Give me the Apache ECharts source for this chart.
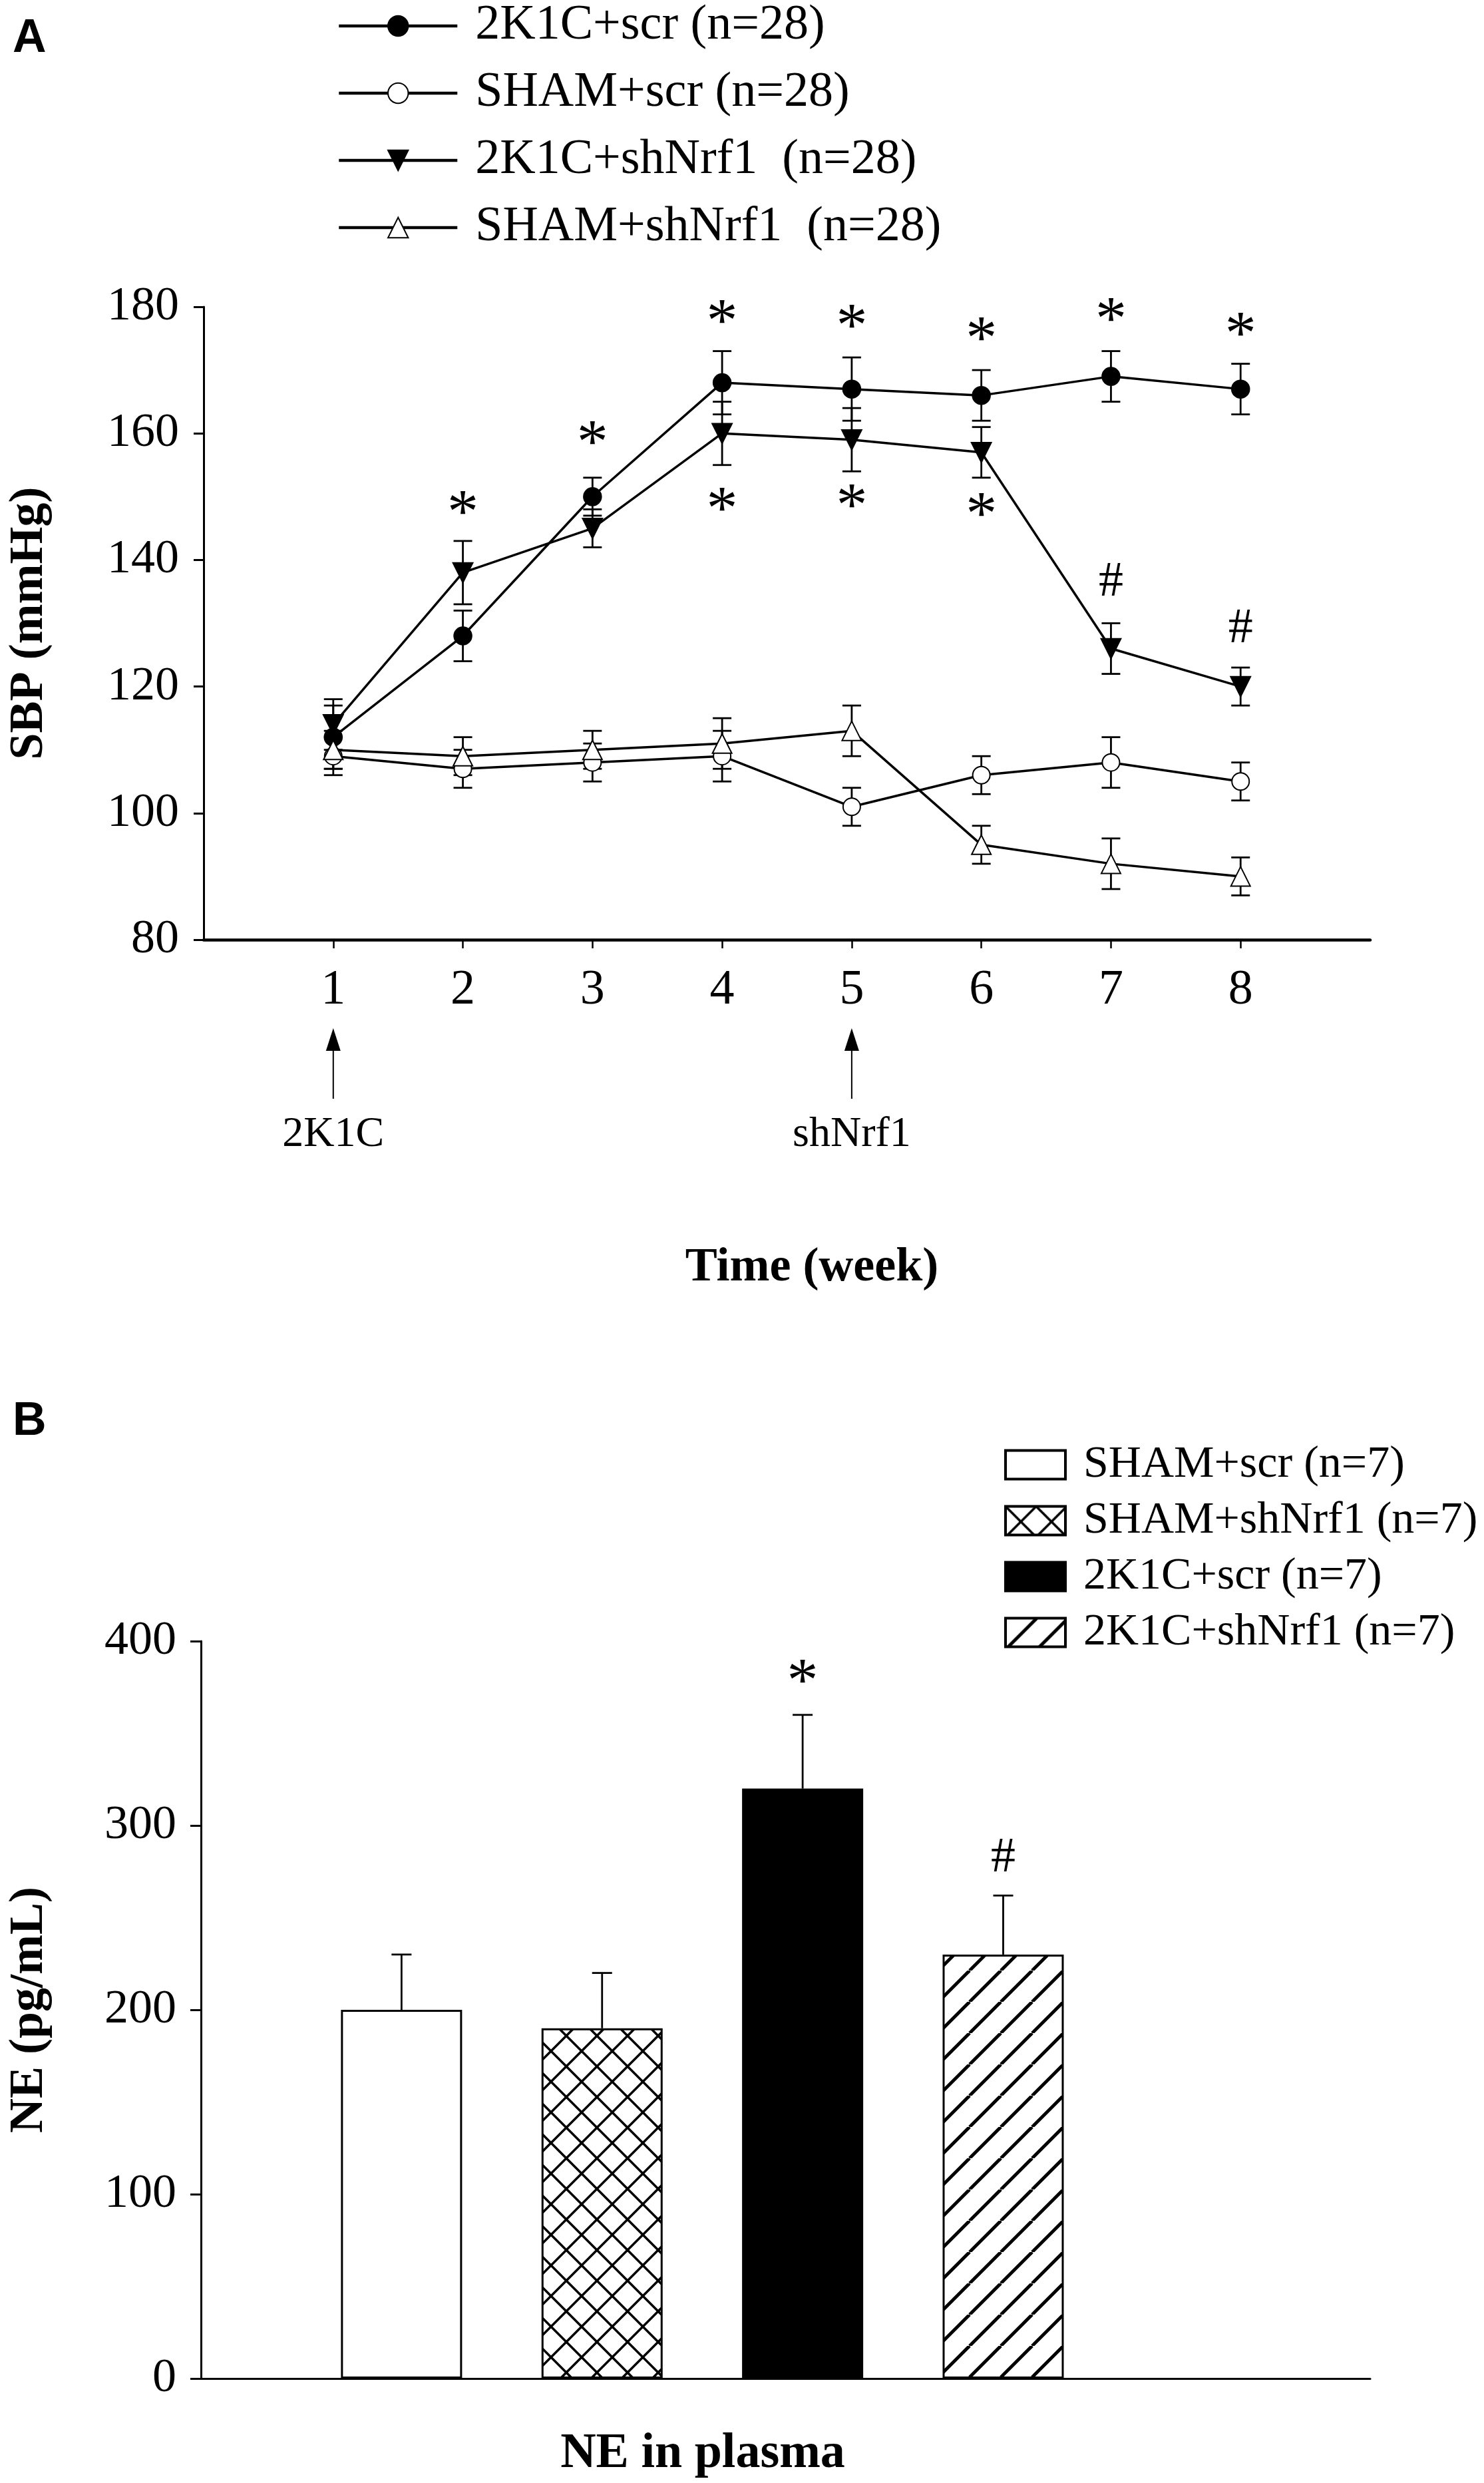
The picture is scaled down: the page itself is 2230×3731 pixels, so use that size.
<!DOCTYPE html>
<html>
<head>
<meta charset="utf-8">
<script src="https://cdn.jsdelivr.net/npm/echarts@6/dist/echarts.min.js"></script>
<style>
html, body { margin: 0; padding: 0; background: #fff; }
#chart { width: 2230px; height: 3731px; }
</style>
</head>
<body>
<div id="chart"></div>
<script>
// ---- panel A data (SBP, mmHg) ----
const weeks = [1, 2, 3, 4, 5, 6, 7, 8];
const sbpNames = ['2K1C+scr (n=28)', 'SHAM+scr (n=28)', '2K1C+shNrf1  (n=28)', 'SHAM+shNrf1  (n=28)'];
const sbp2K1CScr = [112, 128, 150, 168, 167, 166, 169, 167];
const sbp2K1CScrErr = [5, 4, 3, 5, 5, 4, 4, 4];
const sbpShamScr = [109, 107, 108, 109, 101, 106, 108, 105];
const sbpShamScrErr = [3, 3, 3, 4, 3, 3, 4, 3];
const sbp2K1CShNrf1 = [114, 138, 145, 160, 159, 157, 126, 120];
const sbp2K1CShNrf1Err = [4, 5, 3, 5, 5, 4, 4, 3];
const sbpShamShNrf1 = [110, 109, 110, 111, 113, 95, 92, 90];
const sbpShamShNrf1Err = [3, 3, 3, 4, 4, 3, 4, 3];
// significance marks: week, y position, symbol
const sbpMarkX = [2, 3, 4, 5, 6, 7, 8, 4, 5, 6, 7, 8];
const sbpMarkY = [148.5, 159.6, 178.7, 178, 176, 179, 176.7, 149, 149.6, 148.2, 136.4, 129];
const sbpMarkText = ['*', '*', '*', '*', '*', '*', '*', '*', '*', '*', '#', '#'];
const arrowWeeks = [1, 5];
const arrowLabels = ['2K1C', 'shNrf1'];

// ---- panel B data (NE, pg/mL) ----
const neNames = ['SHAM+scr (n=7)', 'SHAM+shNrf1 (n=7)', '2K1C+scr (n=7)', '2K1C+shNrf1 (n=7)'];
const neValues = [200, 190, 320, 230];
const neErr = [30, 30, 40, 32];
const neMarkX = [3, 4];
const neMarkY = [382, 282];
const neMarkText = ['*', '#'];

const SERIF = 'Liberation Serif';

function hatch(kind) {
  const s = kind === 'cross' ? 46 : 47;
  const c = document.createElement('canvas');
  c.width = s; c.height = s;
  const ctx = c.getContext('2d');
  ctx.fillStyle = '#fff';
  ctx.fillRect(0, 0, s, s);
  ctx.strokeStyle = '#000';
  ctx.lineWidth = kind === 'cross' ? 3.5 : 5;
  for (let k = -1; k <= 1; k++) {
    ctx.beginPath();
    ctx.moveTo(k * s, s); ctx.lineTo(k * s + s, 0);
    ctx.stroke();
    if (kind === 'cross') {
      ctx.beginPath();
      ctx.moveTo(k * s, 0); ctx.lineTo(k * s + s, s);
      ctx.stroke();
    }
  }
  return { image: c, repeat: 'repeat' };
}

function errorBars(xs, ys, errs, cap, gi, upOnly) {
  return {
    type: 'custom', xAxisIndex: gi, yAxisIndex: gi, silent: true, z: 2,
    encode: { x: 0, y: 1 },
    data: xs.map((x, i) => [x, ys[i], errs[i]]),
    renderItem: function (params, api) {
      const x = api.value(0), y = api.value(1), e = api.value(2);
      const top = api.coord([x, y + e]);
      const bot = api.coord([x, upOnly ? y : y - e]);
      const st = { stroke: '#000', lineWidth: 2.8 };
      const kids = [
        { type: 'line', shape: { x1: top[0], y1: top[1], x2: bot[0], y2: bot[1] }, style: st },
        { type: 'line', shape: { x1: top[0] - cap / 2, y1: top[1], x2: top[0] + cap / 2, y2: top[1] }, style: st }
      ];
      if (!upOnly) {
        kids.push({ type: 'line', shape: { x1: bot[0] - cap / 2, y1: bot[1], x2: bot[0] + cap / 2, y2: bot[1] }, style: st });
      }
      return { type: 'group', children: kids };
    }
  };
}

function marks(xs, ys, texts, gi) {
  return {
    type: 'custom', xAxisIndex: gi, yAxisIndex: gi, silent: true, z: 5,
    encode: { x: 0, y: 1 },
    data: xs.map((x, i) => [x, ys[i]]),
    renderItem: function (params, api) {
      const p = api.coord([api.value(0), api.value(1)]);
      const t = texts[params.dataIndex];
      const star = t === '*';
      return {
        type: 'text', x: p[0], y: p[1] + (star ? 14 : 0),
        style: { text: t, fontSize: star ? 94 : 74, fontFamily: SERIF, fill: '#000', align: 'center', verticalAlign: 'middle' }
      };
    }
  };
}

function sbpLine(name, vals, symbol, size, rotate) {
  return {
    name: name, type: 'line', xAxisIndex: 0, yAxisIndex: 0, z: 4,
    data: weeks.map((w, i) => [w, vals[i]]),
    symbol: symbol, symbolSize: size, symbolRotate: rotate || 0,
    lineStyle: { color: '#000', width: 3.5 },
    itemStyle: { color: '#000', borderColor: '#000', borderWidth: 2.5 },
    emphasis: { disabled: true }
  };
}

const chart = echarts.init(document.getElementById('chart'), null, { renderer: 'canvas' });

const neFills = ['#fff', hatch('cross'), '#000', hatch('diag')];

const option = {
  backgroundColor: '#fff',
  animation: false,
  title: [
    { text: 'A', left: 19, top: 24, padding: 0, textStyle: { fontSize: 70, fontWeight: 'bold', fontFamily: 'Liberation Sans', color: '#000' } },
    { text: 'B', left: 19, top: 2102, padding: 0, textStyle: { fontSize: 70, fontWeight: 'bold', fontFamily: 'Liberation Sans', color: '#000' } }
  ],
  legend: [
    {
      data: sbpNames, orient: 'vertical', left: 507, top: 2, padding: 0,
      itemWidth: 178, itemHeight: 38, itemGap: 27,
      lineStyle: { width: 4.5 },
      textStyle: { fontSize: 74, fontFamily: SERIF, color: '#000', lineHeight: 72, padding: [0, 0, 0, 22] },
      selectedMode: false
    },
    {
      data: neNames, orient: 'vertical', left: 1509, top: 2167, padding: 0,
      itemWidth: 90, itemHeight: 43, itemGap: 16, icon: 'rect',
      itemStyle: { borderColor: '#000', borderWidth: 4 },
      textStyle: { fontSize: 68, fontFamily: SERIF, color: '#000', lineHeight: 67, padding: [0, 0, 0, 22] },
      selectedMode: false
    }
  ],
  grid: [
    { left: 300, top: 461, width: 1759, height: 951 },
    { left: 300, top: 2466, width: 1759, height: 1108 }
  ],
  xAxis: [
    {
      gridIndex: 0, type: 'value', min: 0, max: 9, interval: 1,
      axisLine: { show: true, onZero: false, lineStyle: { color: '#000', width: 4.5 } },
      axisTick: { show: true, length: 13, customValues: weeks, lineStyle: { color: '#000', width: 2.5 } },
      axisLabel: { customValues: weeks, margin: 40, fontSize: 74, fontFamily: SERIF, color: '#000' },
      splitLine: { show: false }
    },
    {
      gridIndex: 1, type: 'value', min: 0, max: 5.83,
      axisLine: { show: true, onZero: false, lineStyle: { color: '#000', width: 3 } },
      axisTick: { show: false }, axisLabel: { show: false }, splitLine: { show: false }
    }
  ],
  yAxis: [
    {
      gridIndex: 0, type: 'value', min: 80, max: 180, interval: 20,
      name: 'SBP (mmHg)', nameLocation: 'middle', nameGap: 226,
      nameTextStyle: { fontSize: 72, fontWeight: 'bold', fontFamily: SERIF, color: '#000' },
      axisLine: { show: true, lineStyle: { color: '#000', width: 3 } },
      axisTick: { show: true, length: 15, lineStyle: { color: '#000', width: 3 } },
      axisLabel: { margin: 37, fontSize: 72, fontFamily: SERIF, color: '#000' },
      splitLine: { show: false }
    },
    {
      gridIndex: 1, type: 'value', min: 0, max: 400, interval: 100,
      name: 'NE (pg/mL)', nameLocation: 'middle', nameGap: 222,
      nameTextStyle: { fontSize: 72, fontWeight: 'bold', fontFamily: SERIF, color: '#000' },
      axisLine: { show: true, lineStyle: { color: '#000', width: 3 } },
      axisTick: { show: true, length: 16, lineStyle: { color: '#000', width: 3 } },
      axisLabel: { margin: 37, fontSize: 72, fontFamily: SERIF, color: '#000' },
      splitLine: { show: false }
    }
  ],
  series: [
    errorBars(weeks, sbp2K1CScr, sbp2K1CScrErr, 28, 0, false),
    errorBars(weeks, sbpShamScr, sbpShamScrErr, 28, 0, false),
    errorBars(weeks, sbp2K1CShNrf1, sbp2K1CShNrf1Err, 28, 0, false),
    errorBars(weeks, sbpShamShNrf1, sbpShamShNrf1Err, 28, 0, false),
    sbpLine(sbpNames[0], sbp2K1CScr, 'circle', 26),
    sbpLine(sbpNames[1], sbpShamScr, 'emptyCircle', 26),
    sbpLine(sbpNames[2], sbp2K1CShNrf1, 'triangle', 29, 180),
    sbpLine(sbpNames[3], sbpShamShNrf1, 'emptyTriangle', 29),
    marks(sbpMarkX, sbpMarkY, sbpMarkText, 0)
  ].concat(neNames.map((name, i) => ({
    name: name, type: 'bar', xAxisIndex: 1, yAxisIndex: 1, z: 3,
    data: [[i + 1, neValues[i]]],
    barWidth: 182, barGap: '-100%',
    itemStyle: { color: neFills[i], borderColor: '#000', borderWidth: 3 },
    emphasis: { disabled: true }
  }))).concat([
    errorBars([1, 2, 3, 4], neValues, neErr, 30, 1, true),
    marks(neMarkX, neMarkY, neMarkText, 1)
  ])
};

chart.setOption(option);

// arrows under the week axis and axis titles
const graphics = [];
arrowWeeks.forEach((w, i) => {
  const px = chart.convertToPixel({ xAxisIndex: 0 }, w);
  graphics.push({ type: 'line', shape: { x1: px, y1: 1575, x2: px, y2: 1651 }, style: { stroke: '#000', lineWidth: 2 } });
  graphics.push({ type: 'polygon', shape: { points: [[px, 1545], [px - 11, 1579], [px + 11, 1579]] }, style: { fill: '#000' } });
  graphics.push({ type: 'text', x: px, y: 1705, style: { text: arrowLabels[i], fontSize: 64, fontFamily: SERIF, fill: '#000', align: 'center', verticalAlign: 'middle' } });
});
graphics.push({ type: 'text', x: 1220, y: 1905, style: { text: 'Time (week)', fontSize: 72, fontWeight: 'bold', fontFamily: SERIF, fill: '#000', align: 'center', verticalAlign: 'middle' } });
graphics.push({ type: 'text', x: 1056, y: 3688, style: { text: 'NE in plasma', fontSize: 74, fontWeight: 'bold', fontFamily: SERIF, fill: '#000', align: 'center', verticalAlign: 'middle' } });
chart.setOption({ graphic: graphics });
</script>
</body>
</html>
